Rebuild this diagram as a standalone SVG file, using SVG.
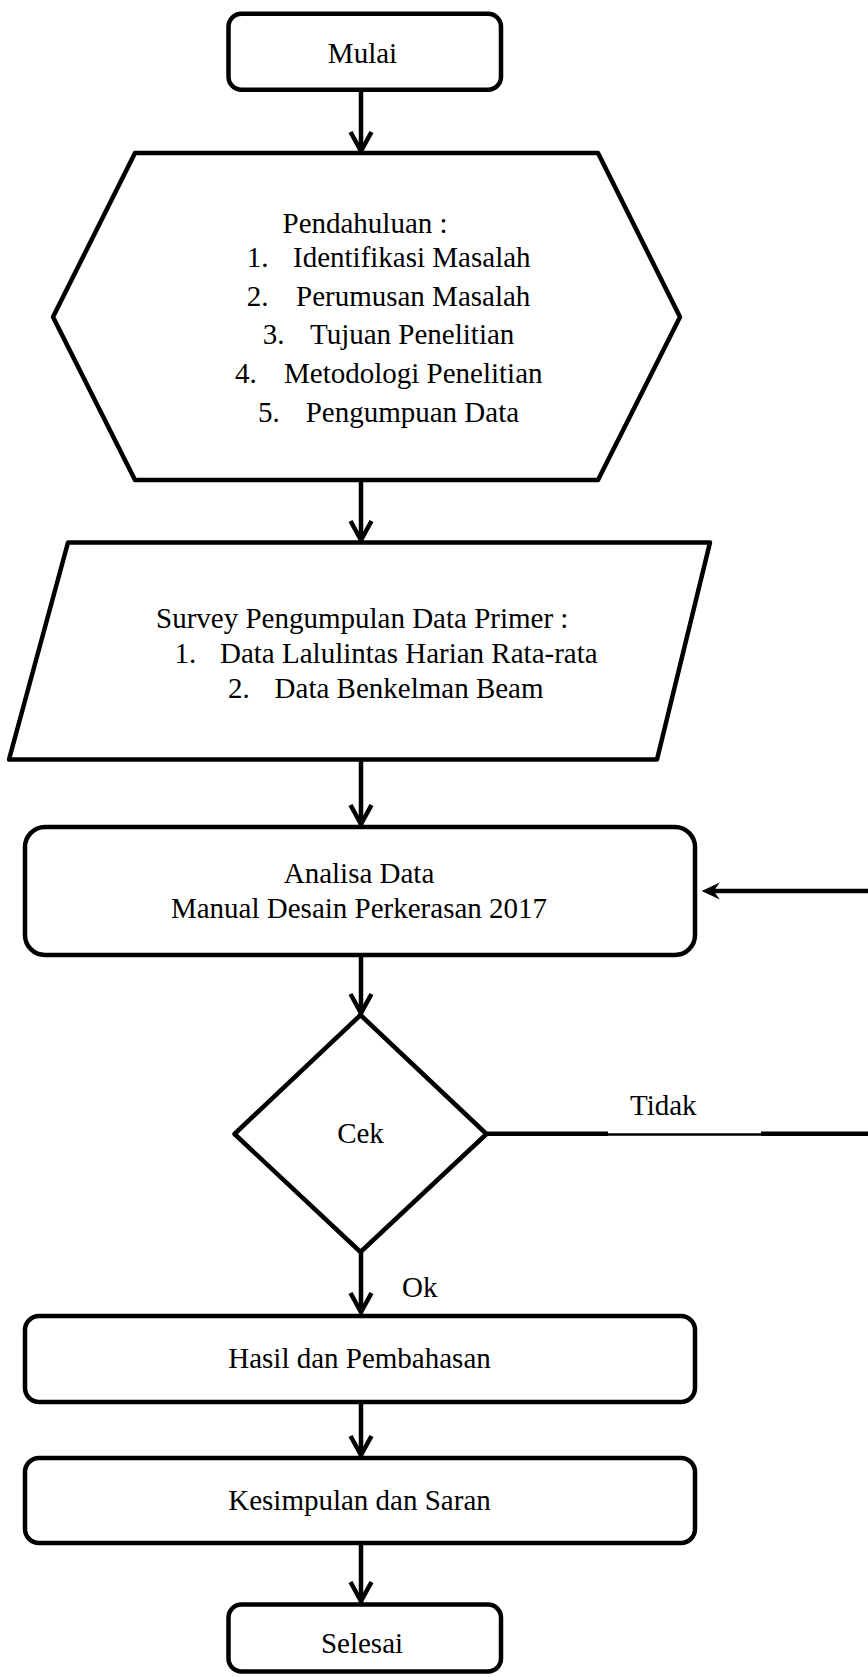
<svg xmlns="http://www.w3.org/2000/svg" width="868" height="1677" viewBox="0 0 868 1677">
  <style>
    .shape { fill: #ffffff; stroke: #000000; stroke-width: 4.5; stroke-linejoin: round; }
    .label { font-family: "Liberation Serif", "Times New Roman", serif; font-size: 29px; fill: #000000; }
    .mid { text-anchor: middle; }
    .flow { fill: none; stroke: #000000; stroke-width: 4.5; }
    .thin { fill: none; stroke: #000000; stroke-width: 2.4; }
  </style>
  <defs>
    <!-- open chevron head for the downward flow lines -->
    <marker id="chevron" markerUnits="userSpaceOnUse" viewBox="-25 -15 30 30" markerWidth="30" markerHeight="30" refX="0" refY="0" orient="auto" overflow="visible">
      <path d="M -20 -10.5 L -1 0 L -20 10.5" fill="none" stroke="#000000" stroke-width="4.5" stroke-linejoin="miter"/>
    </marker>
    <!-- filled notched head for the return line -->
    <marker id="stealth" markerUnits="userSpaceOnUse" viewBox="-20 -10 25 20" markerWidth="25" markerHeight="20" refX="0" refY="0" orient="auto" overflow="visible">
      <path d="M 0 0 L -15 -7 L -10 0 L -15 7 Z" fill="#000000" stroke="#000000" stroke-width="1"/>
    </marker>
  </defs>

  <g id="connectors">
    <line class="flow" x1="361" y1="90" x2="361" y2="152" marker-end="url(#chevron)"/>
    <line class="flow" x1="361" y1="480" x2="361" y2="541" marker-end="url(#chevron)"/>
    <line class="flow" x1="361" y1="760" x2="361" y2="825" marker-end="url(#chevron)"/>
    <line class="flow" x1="361" y1="955" x2="361" y2="1014" marker-end="url(#chevron)"/>
    <line class="flow" x1="361" y1="1252" x2="361" y2="1313" marker-end="url(#chevron)"/>
    <line class="flow" x1="361" y1="1402" x2="361" y2="1456" marker-end="url(#chevron)"/>
    <line class="flow" x1="361" y1="1543" x2="361" y2="1602" marker-end="url(#chevron)"/>
    <!-- "Tidak" branch leaving the decision to the right -->
    <line class="flow" x1="486" y1="1133.7" x2="608" y2="1133.7"/>
    <line class="thin" x1="608" y1="1134.5" x2="761" y2="1134.5"/>
    <line class="flow" x1="761" y1="1133.7" x2="868" y2="1133.7"/>
    <!-- return into the analysis step -->
    <line class="flow" x1="868" y1="891" x2="713" y2="891"/>
    <path d="M 703 891 L 718 884 L 713 891 L 718 898 Z" fill="#000000" stroke="#000000" stroke-width="1.2" stroke-linejoin="miter"/>
    <text class="label" x="630" y="1115">Tidak</text>
    <text class="label" x="402" y="1297">Ok</text>
  </g>

  <g id="mulai">
    <rect class="shape" x="228.5" y="13.7" width="272.5" height="76" rx="13" ry="13"/>
    <text class="label mid" x="362.5" y="62.5">Mulai</text>
  </g>

  <g id="pendahuluan">
    <polygon class="shape" points="135,153 598,153 680,317 598,480 135,480 53,317" stroke-linejoin="miter"/>
    <text class="label" x="282.5" y="232.7">Pendahuluan :</text>
    <text class="label"><tspan x="246.7" y="266.7">1.</tspan><tspan x="293" y="266.7">Identifikasi Masalah</tspan></text>
    <text class="label"><tspan x="246.7" y="305.7">2.</tspan><tspan x="296" y="305.7">Perumusan Masalah</tspan></text>
    <text class="label"><tspan x="262.7" y="344.2">3.</tspan><tspan x="310" y="344.2">Tujuan Penelitian</tspan></text>
    <text class="label"><tspan x="235" y="383">4.</tspan><tspan x="284" y="383">Metodologi Penelitian</tspan></text>
    <text class="label"><tspan x="258" y="421.7">5.</tspan><tspan x="305.7" y="421.7">Pengumpuan Data</tspan></text>
  </g>

  <g id="survey">
    <polygon class="shape" points="68,542.5 710,542.5 657,759.5 9,759.5" stroke-linejoin="miter"/>
    <text class="label" x="156" y="628">Survey Pengumpulan Data Primer :</text>
    <text class="label"><tspan x="174.5" y="663">1.</tspan><tspan x="220" y="663">Data Lalulintas Harian Rata-rata</tspan></text>
    <text class="label"><tspan x="228" y="698">2.</tspan><tspan x="274.6" y="698">Data Benkelman Beam</tspan></text>
  </g>

  <g id="analisa">
    <rect class="shape" x="25" y="827" width="670" height="128" rx="20" ry="20"/>
    <text class="label mid" x="359" y="883">Analisa Data</text>
    <text class="label mid" x="359" y="918">Manual Desain Perkerasan 2017</text>
  </g>

  <g id="cek">
    <polygon class="shape" points="360.5,1015 486.5,1134 360.5,1252 234.5,1134" stroke-linejoin="miter"/>
    <text class="label mid" x="360.5" y="1143">Cek</text>
  </g>

  <g id="hasil">
    <rect class="shape" x="25" y="1316" width="670" height="86" rx="14" ry="14"/>
    <text class="label mid" x="359.5" y="1368">Hasil dan Pembahasan</text>
  </g>

  <g id="kesimpulan">
    <rect class="shape" x="25" y="1458" width="670" height="85" rx="14" ry="14"/>
    <text class="label mid" x="359.5" y="1510">Kesimpulan dan Saran</text>
  </g>

  <g id="selesai">
    <rect class="shape" x="228.5" y="1604.5" width="272.5" height="67" rx="13" ry="13"/>
    <text class="label mid" x="362" y="1653">Selesai</text>
  </g>
</svg>
